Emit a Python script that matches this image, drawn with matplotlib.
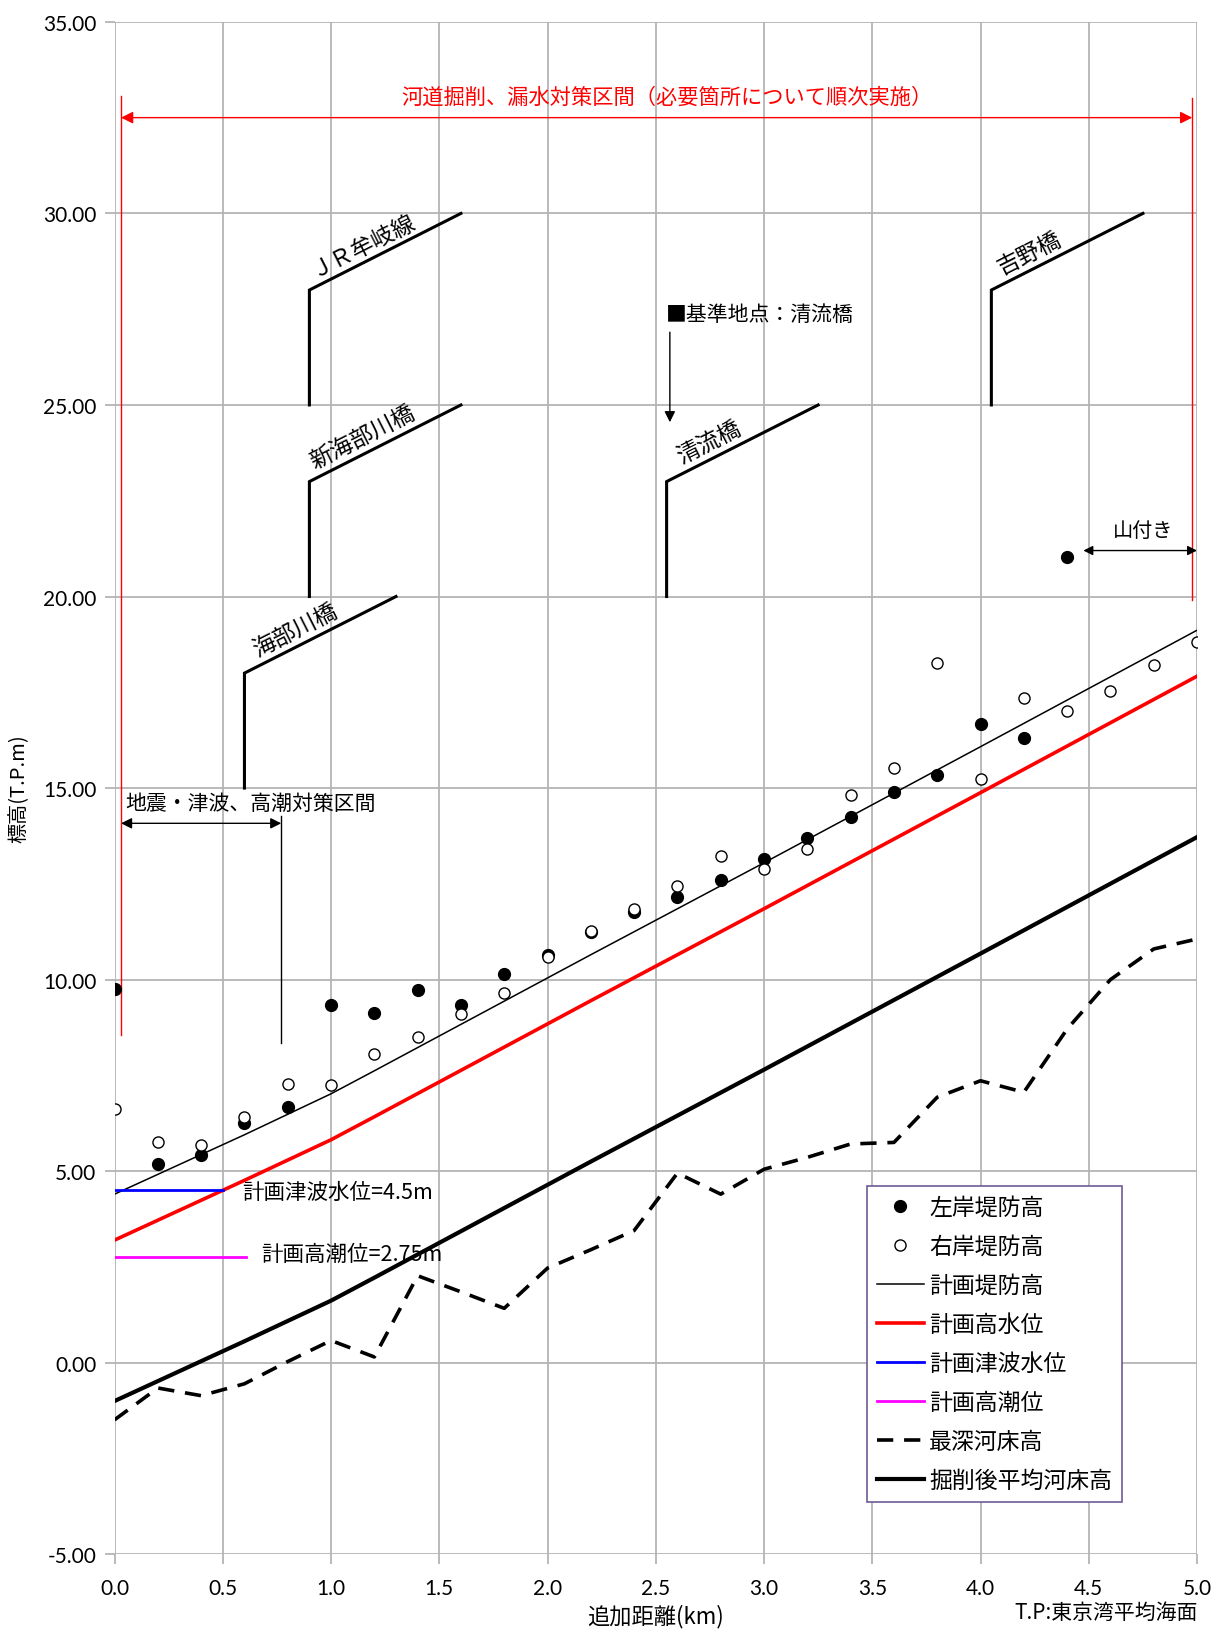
import matplotlib
matplotlib.use("Agg")
import matplotlib.pyplot as plt
from matplotlib.lines import Line2D

plt.rcParams['font.family'] = ['Noto Sans CJK JP', 'DejaVu Sans']

# 測点 (km)
dist = [0.0, 0.2, 0.4, 0.6, 0.8, 1.0, 1.2, 1.4, 1.6, 1.8, 2.0, 2.2, 2.4,
        2.6, 2.8, 3.0, 3.2, 3.4, 3.6, 3.8, 4.0, 4.2, 4.4, 4.6, 4.8, 5.0]

# 左岸堤防高
left_dist = dist[:23]
left_bank = [9.76, 5.19, 5.41, 6.25, 6.68, 9.35, 9.13, 9.73, 9.35, 10.14, 10.65,
             11.25, 11.77, 12.15, 12.61, 13.15, 13.70, 14.24, 14.89, 15.33,
             16.66, 16.30, 21.03]
# 右岸堤防高
right_bank = [6.63, 5.76, 5.68, 6.41, 7.28, 7.26, 8.07, 8.51, 9.10, 9.65, 10.60,
              11.28, 11.85, 12.45, 13.23, 12.88, 13.40, 14.81, 15.52, 18.26,
              15.24, 17.34, 17.01, 17.53, 18.21, 18.80]
# 最深河床高
deep_bed = [-1.49, -0.66, -0.86, -0.55, 0.03, 0.58, 0.15, 2.27, 1.85, 1.42, 2.47,
            2.95, 3.45, 4.95, 4.40, 5.05, 5.36, 5.71, 5.75, 6.93, 7.36, 7.06,
            8.71, 10.00, 10.80, 11.06]

# 計画線
plan_dist = [0.0, 0.6, 1.0, 1.2, 2.2, 3.0, 4.0, 5.0]
plan_levee = [4.40, 5.95, 7.02, 7.62, 10.65, 13.05, 16.08, 19.12]
plan_hwl = [3.20, 4.76, 5.82, 6.42, 9.45, 11.85, 14.88, 17.92]
plan_bed = [-1.00, 0.56, 1.62, 2.22, 5.25, 7.65, 10.68, 13.72]

tsunami_level = 4.5
tide_level = 2.75

# 橋梁
bridge_x = [0.9, 0.9, 0.6, 2.55, 4.05]
bridge_bottom = [25.0, 20.0, 15.0, 20.0, 25.0]
bridge_knee = [28.0, 23.0, 18.0, 23.0, 28.0]
bridge_end_x = [1.6, 1.6, 1.3, 3.25, 4.75]
bridge_end_y = [30.0, 25.0, 20.0, 25.0, 30.0]
bridge_names = ['ＪＲ牟岐線', '新海部川橋', '海部川橋', '清流橋', '吉野橋']

fig = plt.figure(figsize=(12.16, 16.33), dpi=100)
ax = fig.add_axes([0.0942, 0.0476, 0.8902, 0.9384])

ax.plot(left_dist, left_bank, 'o', color='black', ms=8.5, label='左岸堤防高', zorder=5)
ax.plot(dist, right_bank, 'o', mfc='white', mec='black', mew=1.0, ms=8,
        label='右岸堤防高', zorder=6)
ax.plot(plan_dist, plan_levee, color='black', lw=1.1, label='計画堤防高')
ax.plot(plan_dist, plan_hwl, color='#ff0000', lw=2.6, label='計画高水位')
ax.plot([0.0, 0.5], [tsunami_level, tsunami_level], color='#0000ff', lw=2.0,
        label='計画津波水位')
ax.plot([0.0, 0.607], [tide_level, tide_level], color='#ff00ff', lw=2.0,
        label='計画高潮位')
ax.plot(dist, deep_bed, color='black', lw=2.6, dashes=(4.5, 3), label='最深河床高')
ax.plot(plan_dist, plan_bed, color='black', lw=3.0, label='掘削後平均河床高')

# 橋梁
for bx, b0, b1, ex, ey in zip(bridge_x, bridge_bottom, bridge_knee, bridge_end_x, bridge_end_y):
    ax.plot([bx, bx, ex], [b0, b1, ey], color='black', lw=2.2, solid_joinstyle='miter')
label_at = [1.18, 1.18, 0.865, 2.78, 4.26]
for bx, b1, ex, ey, name, lx in zip(bridge_x, bridge_knee, bridge_end_x, bridge_end_y,
                                    bridge_names, label_at):
    ly = b1 + (lx - bx) / (ex - bx) * (ey - b1)
    ax.annotate(name, (lx, ly), xytext=(-1.5, 3), textcoords='offset points',
                rotation=26.8, rotation_mode='anchor', ha='center', va='bottom',
                fontsize=16.5)

# 河道掘削区間
ax.plot([0.03, 0.03], [8.56, 33.07], color='#ff0000', lw=1.0)
ax.plot([4.978, 4.978], [19.9, 33.0], color='#ff0000', lw=1.0)
ax.annotate('', xy=(0.03, 32.5), xytext=(4.978, 32.5),
            arrowprops=dict(arrowstyle='<|-|>', color='#ff0000', lw=1.0,
                            mutation_scale=18, shrinkA=0, shrinkB=0))
ax.text(2.55, 33.05, '河道掘削、漏水対策区間（必要箇所について順次実施）',
        color='#ff0000', fontsize=15.3, ha='center', va='center')

# 地震・津波、高潮対策区間
ax.text(0.05, 14.6, '地震・津波、高潮対策区間', fontsize=15, ha='left', va='center')
ax.annotate('', xy=(0.03, 14.08), xytext=(0.77, 14.08),
            arrowprops=dict(arrowstyle='<|-|>', color='black', lw=1.0,
                            mutation_scale=16, shrinkA=0, shrinkB=0))
ax.plot([0.77, 0.77], [8.34, 14.27], color='black', lw=1.0)

# 基準地点
ax.text(2.547, 27.37, '■基準地点：清流橋', fontsize=15, ha='left', va='center')
ax.annotate('', xy=(2.565, 24.55), xytext=(2.565, 26.9),
            arrowprops=dict(arrowstyle='-|>', color='black', lw=1.0,
                            mutation_scale=16, shrinkA=0, shrinkB=0))

# 山付き
ax.text(4.75, 21.72, '山付き', fontsize=14.5, ha='center', va='center')
ax.annotate('', xy=(4.475, 21.2), xytext=(5.0, 21.2),
            arrowprops=dict(arrowstyle='<|-|>', color='black', lw=1.0,
                            mutation_scale=14, shrinkA=0, shrinkB=0))

ax.text(0.59, 4.46, '計画津波水位=4.5m', fontsize=15.5, ha='left', va='center')
ax.text(0.676, 2.85, '計画高潮位=2.75m', fontsize=15.5, ha='left', va='center')

ax.set_xlim(0, 5.0)
ax.set_ylim(-5, 35)
ax.set_xticks([0.0, 0.5, 1.0, 1.5, 2.0, 2.5, 3.0, 3.5, 4.0, 4.5, 5.0])
ax.set_yticks(range(-5, 36, 5))
ax.set_xticklabels(['%.1f' % v for v in ax.get_xticks()], family='Lato', fontsize=15)
ax.set_yticklabels(['%.2f' % v for v in ax.get_yticks()], family='Lato', fontsize=15)
ax.grid(True, color='#b4b4b4', lw=1.3)
ax.set_axisbelow(True)
for s in ax.spines.values():
    s.set_visible(False)
ax.tick_params(length=7, width=1.3, color='#b4b4b4')
ax.tick_params(axis='x', pad=10)
ax.tick_params(axis='y', pad=6)

ax.set_xlabel('追加距離(km)', fontsize=16, labelpad=4)
ax.set_ylabel('標高(T.P.m)', fontsize=14.5, labelpad=10)
fig.text(0.91, 0.012, 'T.P:東京湾平均海面', fontsize=15, ha='center', va='center')

handles = [
    Line2D([], [], ls='none', marker='o', color='black', ms=8.5),
    Line2D([], [], ls='none', marker='o', mfc='white', mec='black', ms=8),
    Line2D([], [], color='black', lw=1.1),
    Line2D([], [], color='#ff0000', lw=2.6),
    Line2D([], [], color='#0000ff', lw=2.0),
    Line2D([], [], color='#ff00ff', lw=2.0),
    Line2D([], [], color='black', lw=2.6, dashes=(4.5, 3)),
    Line2D([], [], color='black', lw=3.0),
]
labels = ['左岸堤防高', '右岸堤防高', '計画堤防高', '計画高水位', '計画津波水位',
          '計画高潮位', '最深河床高', '掘削後平均河床高']
leg = fig.legend(handles, labels, loc='upper left',
                 bbox_to_anchor=(867 / 1216, 1 - 1187 / 1633),
                 bbox_transform=fig.transFigure, borderaxespad=0,
                 fontsize=16.5, fancybox=False, framealpha=1, edgecolor='#6e5a96',
                 handlelength=2.05, handletextpad=0.25, labelspacing=0.7,
                 borderpad=0.42)
leg.get_frame().set_linewidth(1.2)

fig.savefig('out.png', dpi=100)
